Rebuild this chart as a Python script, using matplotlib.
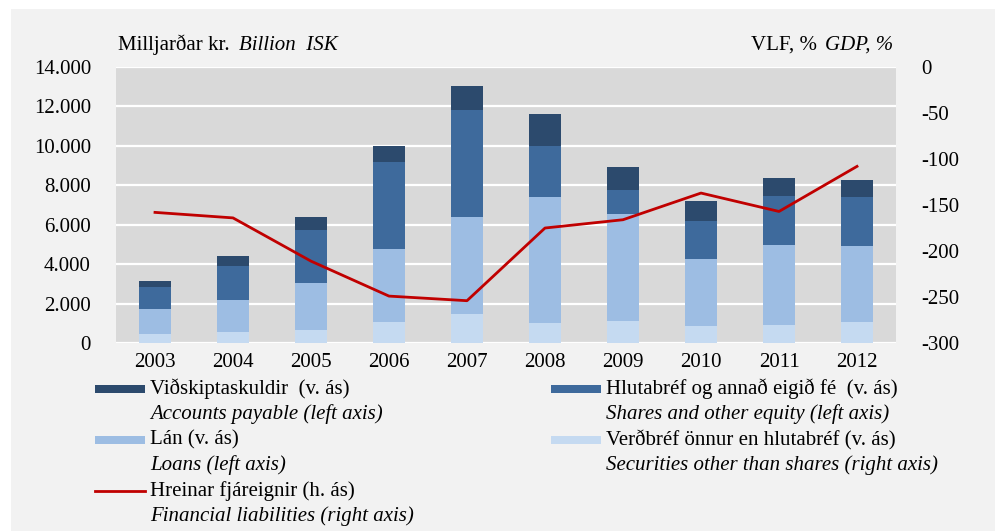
import numpy as np
import matplotlib.pyplot as plt
from matplotlib.patches import Rectangle
from matplotlib.lines import Line2D

plt.rcParams['font.family'] = ['Liberation Serif', 'DejaVu Serif']
plt.rcParams['axes.unicode_minus'] = False

# Gögn / data
years = ['2003', '2004', '2005', '2006', '2007', '2008', '2009', '2010', '2011', '2012']
securities = [450, 560, 660, 1080, 1470, 1030, 1130, 880, 910, 1080]
loans = [1280, 1620, 2400, 3690, 4940, 6380, 5410, 3380, 4080, 3860]
shares = [1100, 1740, 2670, 4400, 5410, 2590, 1220, 1950, 2470, 2480]
payables = [330, 480, 650, 840, 1230, 1620, 1190, 990, 930, 830]
net_assets = [-158, -164, -211, -249, -254, -175, -166, -137, -157, -108]

left_ticks = list(range(0, 14001, 2000))
left_labels = ['0', '2.000', '4.000', '6.000', '8.000', '10.000', '12.000', '14.000']
right_ticks = list(range(-300, 1, 50))

c_sec = '#c5daf1'
c_loan = '#9dbde3'
c_share = '#3e6a9c'
c_pay = '#2c4a6d'
c_line = '#c00000'
fs = 15

fig = plt.figure(figsize=(10, 5.31), dpi=100)
fig.patch.set_facecolor('white')
fig.patches.append(Rectangle((0.011, 0), 0.984, 0.983, transform=fig.transFigure,
                             facecolor='#f2f2f2', edgecolor='none', zorder=-10))

ax = fig.add_axes([0.116, 0.354, 0.78, 0.5198])
ax.set_facecolor('#d9d9d9')
x = np.arange(len(years))
w = 0.4
b1 = np.array(securities)
b2 = b1 + np.array(loans)
b3 = b2 + np.array(shares)
ax.bar(x, securities, w, color=c_sec, zorder=3)
ax.bar(x, loans, w, bottom=b1, color=c_loan, zorder=3)
ax.bar(x, shares, w, bottom=b2, color=c_share, zorder=3)
ax.bar(x, payables, w, bottom=b3, color=c_pay, zorder=3)

ax.set_xlim(-0.5, len(years) - 0.5)
ax.set_ylim(0, 14000)
ax.set_yticks(left_ticks)
ax.set_yticklabels(left_labels)
ax.set_xticks(x)
ax.set_xticklabels(years)
ax.grid(axis='y', color='white', linewidth=1.6, zorder=1)
ax.tick_params(axis='y', length=0, pad=18, labelsize=fs)
ax.tick_params(axis='x', length=0, pad=7, labelsize=fs)
for s in ax.spines.values():
    s.set_visible(False)

ax2 = ax.twinx()
ax2.plot(x, net_assets, color=c_line, linewidth=2, zorder=5)
ax2.set_ylim(-300, 0)
ax2.set_yticks(right_ticks)
ax2.tick_params(axis='y', length=0, pad=18, labelsize=fs)
for s in ax2.spines.values():
    s.set_visible(False)

# Fyrirsagnir ása
yh = 1 - 45 / 531
t1 = fig.text(0.118, yh, 'Milljarðar kr.', fontsize=fs, va='center', ha='left')
ax.annotate('Billion  ISK', xy=(1, 0.5), xycoords=t1, xytext=(7, 0),
            textcoords='offset points', fontsize=fs, style='italic', va='center', ha='left')
t2 = fig.text(0.893, yh, 'GDP, %', fontsize=fs, style='italic', va='center', ha='right')
ax.annotate('VLF, %', xy=(0, 0.5), xycoords=t2, xytext=(-6, 0),
            textcoords='offset points', fontsize=fs, va='center', ha='right')

# Skýringar
def leg_item(xp, yrow, kind, color, line1, line2):
    yc = 1 - yrow / 531
    if kind == 'bar':
        fig.patches.append(Rectangle((xp, yc - 4 / 531), 0.05, 8 / 531,
                                     transform=fig.transFigure, facecolor=color,
                                     edgecolor='none'))
    else:
        fig.lines.append(Line2D([xp, xp + 0.05], [yc, yc], transform=fig.transFigure,
                                color=color, linewidth=2))
    fig.text(xp + 0.055, yc, line1, fontsize=fs, va='center', ha='left')
    fig.text(xp + 0.055, 1 - (yrow + 25) / 531, line2, fontsize=fs, style='italic',
             va='center', ha='left')

leg_item(0.095, 389, 'bar', c_pay, 'Viðskiptaskuldir  (v. ás)', 'Accounts payable (left axis)')
leg_item(0.551, 389, 'bar', c_share, 'Hlutabréf og annað eigið fé  (v. ás)', 'Shares and other equity (left axis)')
leg_item(0.095, 440, 'bar', c_loan, 'Lán (v. ás)', 'Loans (left axis)')
leg_item(0.551, 440, 'bar', c_sec, 'Verðbréf önnur en hlutabréf (v. ás)', 'Securities other than shares (right axis)')
leg_item(0.095, 491, 'line', c_line, 'Hreinar fjáreignir (h. ás)', 'Financial liabilities (right axis)')

fig.savefig('out.png', dpi=100)
